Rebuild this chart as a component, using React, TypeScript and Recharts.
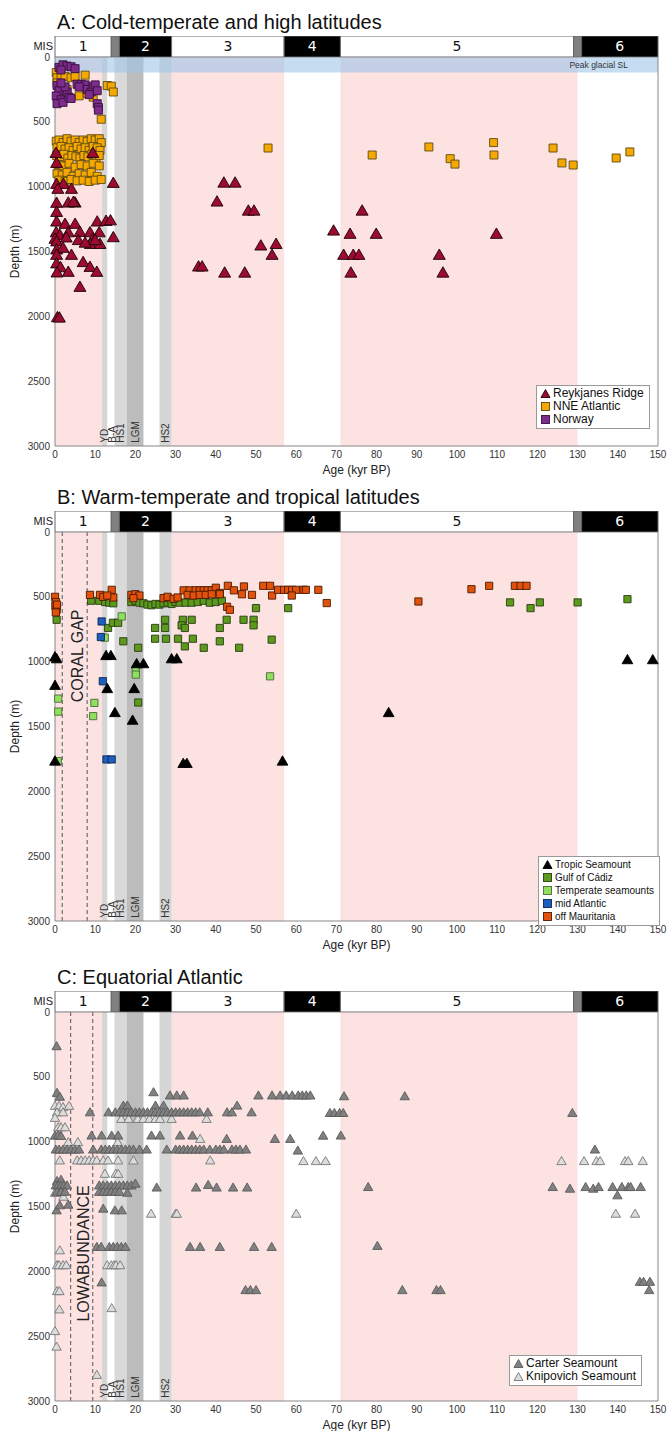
import React from 'react';
import {
  ScatterChart, Scatter, XAxis, YAxis, ReferenceArea, ReferenceLine, Symbols,
  BarChart, Bar, LabelList
} from 'recharts';

const W = 667;
const FONT = '"Liberation Sans", Arial, sans-serif';

// MIS stages along the top strip (kyr BP)
const misLabels = ['1', '', '2', '3', '4', '5', '', '6'];
const misStarts = [0, 14, 16, 29, 57, 71, 129, 131];
const misEnds = [14, 16, 29, 57, 71, 129, 131, 150];
const misFills = ['#fff', '#808080', '#000', '#fff', '#000', '#fff', '#808080', '#000'];

// shaded periods
const warmBands = [[0, 11.7], [29, 57], [71, 130]];
const coldNames = ['YD', 'HS1', 'LGM', 'HS2'];
const coldBands = [[11.7, 13], [14.8, 17.8], [17.8, 22], [26, 29]];
const coldFills = ['#d6d6d6', '#d9d9d9', '#bcbcbc', '#d6d6d6'];
const bandLabelNames = ['YD', 'B-A', 'HS1', 'LGM', 'HS2'];
const bandLabelAges = [12.4, 14.3, 16.3, 20.0, 27.6];

const ageTicks = [0, 10, 20, 30, 40, 50, 60, 70, 80, 90, 100, 110, 120, 130, 140, 150];
const ageMinor = Array.from({ length: 76 }, (_, i) => i * 2);
const depthTicks = [0, 500, 1000, 1500, 2000, 2500, 3000];

// ---------- Panel A ----------
const reykjanesRidge = [
  [0.25, 748], [9.4, 748], [0.4, 825], [0.4, 987], [2.1, 987], [0.7, 1025], [4.1, 1025], [14.5, 979],
  [0.4, 1133], [3.3, 1131], [5, 1131], [4.6, 1125], [0.4, 1203], [0.4, 1277], [2.5, 1295], [5, 1295], [10.5, 1277],
  [12.7, 1272], [13.8, 1268], [0.3, 1360], [1.2, 1380], [3.3, 1360], [0, 1410], [0.4, 1430], [6.2, 1357],
  [8.7, 1360], [9.4, 1410], [11, 1360], [8.8, 1450], [14.5, 1398], [11.2, 1450], [0.4, 1493], [2, 1480],
  [4.1, 1534], [0.4, 1534], [0.4, 1600], [1.4, 1630], [3.3, 1665], [0.5, 1670], [7, 1590], [8.7, 1627],
  [10.4, 1665], [6.2, 1781], [0.6, 2015], [1.1, 2018], [2.8, 1400], [5.8, 1420], [7.5, 1440], [10, 1420],
  [42, 977], [44.8, 977], [40.3, 1123], [48.1, 1193], [49.5, 1193], [51.2, 1462], [55, 1450], [54, 1534],
  [35.7, 1624], [36.6, 1624], [42.2, 1671], [47.2, 1671], [69.3, 1347], [73.4, 1372], [79.9, 1372],
  [76.4, 1193], [71.8, 1534], [74.2, 1534], [75.6, 1534], [73.6, 1671], [95.6, 1534], [96.5, 1671], [109.8, 1372]
];
const nneAtlantic = [
  [0.3, 120], [0.5, 160], [1.5, 140], [2.5, 150], [4, 160], [5, 150], [7.5, 140], [13, 220], [14, 225],
  [14.5, 270], [1, 270], [3, 250], [6, 300], [8, 280], [9.5, 310], [11.5, 480], [0.5, 200],
  [0.3, 650], [1, 640], [2, 660], [3, 630], [4, 650], [5, 640], [6, 660], [7, 640], [8, 650], [9, 630], [10, 640], [11, 630], [11.5, 660],
  [0.5, 700], [1.5, 690], [2.5, 710], [3.5, 700], [4.5, 720], [5.5, 690], [6.5, 710], [7.5, 700], [8.5, 720], [9.5, 690], [10.5, 700], [11.2, 720],
  [0.4, 760], [1.2, 770], [2.2, 750], [3.2, 780], [4.2, 760], [5.2, 770], [6.2, 780], [7.2, 760], [8.2, 770], [9.2, 750], [10.2, 780], [11, 760],
  [0.8, 830], [2, 840], [3.5, 820], [5, 850], [6.5, 830], [8, 840], [9.5, 820], [11, 840],
  [0.5, 900], [1.8, 910], [3, 890], [4.5, 920], [6, 900], [7.5, 910], [9, 890], [10.5, 920],
  [1, 950], [2.5, 960], [4, 945], [5.5, 955], [7, 950], [8.5, 960], [10, 950], [11.5, 945],
  [53, 702], [78.9, 756], [93, 694], [98.3, 784], [99.5, 826], [109.1, 660], [109.2, 756],
  [123.9, 702], [126.1, 817], [128.9, 833], [139.6, 779], [143, 732]
];
const norway = [
  [1, 80], [2, 60], [3, 70], [4, 75], [5, 90], [1.5, 100], [0.5, 220], [1, 260], [0.3, 300], [1.5, 330],
  [0.5, 360], [2, 350], [3, 270], [3.5, 310], [4, 320], [5.5, 210], [6.5, 210], [7.5, 215], [8, 250],
  [9, 270], [9.5, 230], [10, 215], [10.5, 260], [8.5, 290], [10.5, 360], [10.8, 390], [10.8, 410],
  [6, 230], [2.5, 230], [1.5, 200]
];

// ---------- Panel B ----------
const tropicSeamount = [
  [0, 970], [0.4, 985], [0, 1190], [12.7, 960], [13.9, 960], [20.3, 1023], [22, 1023], [13, 1215],
  [19.7, 1215], [29, 985], [30.3, 985], [14.9, 1400], [19.3, 1459], [0, 1774], [31.9, 1792], [32.8, 1792],
  [56.6, 1774], [83, 1400], [142.4, 992], [148.7, 992]
];
const gulfOfCadiz = [
  [0.4, 575], [0.4, 677], [9, 530], [11, 530], [12.5, 540], [13.5, 545], [14.5, 550], [13.2, 740],
  [14.4, 700], [15.7, 700], [17, 843], [20.7, 893], [20.7, 1315], [19, 540], [20, 530], [21, 545],
  [22, 550], [23, 560], [24, 565], [25, 555], [26, 560], [27, 550], [28, 545], [29, 555], [30, 540],
  [31, 545], [32.5, 545], [34, 545], [35.5, 540], [37, 530], [38.5, 545], [40, 540], [41.5, 530],
  [24.9, 740], [27.4, 740], [27.4, 677], [24.9, 823], [27.6, 823], [30.6, 823], [34.3, 823], [32.3, 882],
  [31.8, 677], [34, 677], [31.5, 720], [32.3, 740], [37, 893], [41, 843], [41, 740], [42.7, 677],
  [45.8, 893], [46.9, 677], [49.4, 677], [49.4, 720], [50, 587], [53.9, 830], [58, 587],
  [113.2, 543], [118.3, 587], [120.6, 543], [130, 543], [142.4, 518]
];
const temperateSeamounts = [
  [16.6, 651], [0.8, 1285], [0.8, 1385], [9.8, 1318], [9.5, 1420], [0.7, 1767], [12.4, 815],
  [20.1, 1062], [20.1, 1100], [53.5, 1113]
];
const midAtlantic = [[11.6, 690], [11.4, 810], [11.9, 1151], [12.8, 1754], [14.1, 1754]];
const offMauritania = [
  [0, 500], [0.2, 540], [0.1, 570], [0.4, 600], [0.2, 620], [0.5, 560], [8.7, 485], [11.2, 485],
  [12, 500], [14.1, 446], [14.5, 505], [13, 490], [19, 485], [20, 480], [21, 490], [19.5, 510],
  [27, 510], [28, 500], [29.5, 515], [30.5, 505], [32, 450], [33.5, 450], [35, 450], [36, 450],
  [37, 450], [38, 450], [39, 450], [40, 430], [41, 470], [33, 485], [34.5, 490], [36, 485], [37.5, 485],
  [39, 480], [41, 480], [42.8, 577], [43.5, 600], [43, 415], [44.5, 450], [47, 420], [46.5, 480],
  [49, 485], [51.8, 415], [53.5, 415], [54, 490], [55.5, 446], [57, 446], [58, 446], [59, 446],
  [60, 446], [61.8, 446], [62.4, 446], [58.9, 490], [65.5, 446], [67.6, 548], [90.4, 536],
  [103.6, 441], [108, 415], [114.4, 415], [115.8, 415], [117.3, 415]
];

// ---------- Panel C ----------
const carterSeamount = [
  [0.4, 270], [0.5, 630], [1.2, 660], [24.5, 625], [28.6, 650], [30.3, 650], [32, 650], [50.6, 650],
  [54, 650], [56, 650], [57.5, 650], [59, 650], [60.5, 650], [61.5, 650], [62.5, 650], [63.5, 650],
  [71.9, 656], [87, 656], [17, 728], [18, 728], [25, 728], [27, 728], [45.3, 728],
  [8.7, 780], [13.3, 780], [15, 780], [16, 780], [17, 780], [18, 780], [19, 780], [20, 780], [21, 780],
  [22, 780], [23, 780], [24, 780], [25, 780], [26, 780], [27, 780], [28, 780], [29, 780], [30, 780],
  [31, 780], [32, 780], [33, 780], [34, 780], [35, 780], [36, 780], [38, 780], [42.8, 780], [44, 780],
  [48.9, 780], [68.4, 785], [69.5, 785], [70.8, 785], [71.7, 785], [128.7, 785],
  [0, 960], [0.8, 955], [1.5, 962], [9.1, 959], [11.6, 959], [14.1, 959], [15.7, 959], [24, 959],
  [26.1, 959], [31.1, 959], [34.2, 959], [42.7, 985], [54.7, 985], [58.5, 985], [71.1, 959], [66.7, 960],
  [0.2, 1067], [1, 1067], [2, 1067], [3, 1067], [4, 1067], [5, 1067], [6, 1067], [9.5, 1067], [11.5, 1067],
  [12.5, 1067], [13.5, 1067], [14.5, 1067], [15.5, 1067], [16.5, 1067], [17.5, 1067], [18.5, 1067],
  [19.5, 1067], [21, 1067], [22.8, 1067], [27.8, 1067], [30, 1067], [31, 1067], [32, 1067], [33, 1067],
  [34, 1067], [35, 1067], [36, 1067], [37, 1067], [38.5, 1067], [40, 1067], [41, 1067], [42, 1067],
  [44, 1067], [45, 1067], [46, 1067], [47.5, 1067], [60.4, 1075], [134.3, 1067],
  [0.5, 1310], [1.5, 1300], [0.2, 1344], [0.8, 1344], [1.5, 1344], [2.2, 1344], [3, 1344], [11, 1344],
  [12, 1344], [13, 1344], [14, 1344], [15, 1344], [16, 1344], [17, 1344], [18, 1344], [19, 1344],
  [20, 1330], [25.3, 1360], [35.1, 1360], [38.1, 1340], [40.2, 1360], [44.3, 1360], [47.8, 1360],
  [77.9, 1356], [123.8, 1356], [128.1, 1369], [132, 1356], [133.9, 1369], [135.2, 1356], [138.7, 1356],
  [141, 1356], [142.6, 1356], [143.2, 1356], [145.7, 1356], [139.9, 1420],
  [0.5, 1393], [1.5, 1393], [2.5, 1393], [11, 1393], [12, 1393], [13, 1393], [14, 1393], [15, 1393],
  [16, 1393], [18, 1400], [0.4, 1536], [1.2, 1497], [3.3, 1492], [12, 1523], [14.9, 1536], [16.6, 1536],
  [10.4, 1818], [11.5, 1818], [13.5, 1818], [14.5, 1818], [15.5, 1818], [16.5, 1818], [17.5, 1818],
  [33.6, 1818], [36.1, 1818], [41, 1818], [49.5, 1818], [53.9, 1818], [80.2, 1810],
  [11.6, 2092], [47.4, 2151], [48.6, 2151], [50, 2151], [86.4, 2151], [94.9, 2151], [95.9, 2151],
  [145.5, 2087], [146.4, 2087], [148, 2087], [147.8, 2151]
];
const knipovichSeamount = [
  [0, 730], [1, 730], [2, 740], [3.5, 730], [0.5, 780], [2, 780], [0, 823], [0.8, 895], [1.5, 895],
  [2.5, 895], [16.5, 831], [18.3, 831], [20.6, 831], [22, 831], [23.5, 831], [25, 831], [26.1, 831],
  [29, 831], [37.7, 831], [36.1, 985], [3.3, 1010], [5.7, 1010], [15.6, 1010],
  [1.2, 1151], [5.5, 1151], [6.5, 1151], [7.5, 1151], [8.5, 1151], [9.5, 1151], [10.4, 1151], [12, 1151],
  [13.2, 1151], [15.7, 1151], [19.5, 1151], [38.6, 1151], [61.8, 1156], [64.9, 1156], [67.3, 1156],
  [126, 1156], [131.6, 1156], [134.7, 1156], [135.6, 1156], [141.8, 1156], [142.6, 1156], [146.2, 1156],
  [12.4, 1254], [15.1, 1254], [15.7, 1254], [0, 1400], [0.3, 1400], [2.1, 1431],
  [23.9, 1562], [30, 1562], [30.3, 1562], [60, 1562], [139.5, 1562], [144.3, 1562],
  [1.2, 1844], [0.5, 1959], [1, 1959], [2, 1959], [2.8, 1959], [13, 1959], [14, 1959], [14.7, 1959],
  [15.2, 1959], [16.2, 1959], [0.5, 2159], [1.1, 2159], [1.1, 2300], [14.1, 2290], [0, 2467],
  [0.4, 2587], [10.4, 2805]
];

const toPts = (arr: number[][]) => arr.map(([age, depth]) => ({ age, depth }));

type Series = { name: string; data: number[][]; shape: 'triangle' | 'square'; fill: string; stroke: string; size: number };

const panelA: Series[] = [
  { name: 'NNE Atlantic', data: nneAtlantic, shape: 'square', fill: '#f5a800', stroke: '#5c4a14', size: 64 },
  { name: 'Norway', data: norway, shape: 'square', fill: '#7d2c8c', stroke: '#35103c', size: 64 },
  { name: 'Reykjanes Ridge', data: reykjanesRidge, shape: 'triangle', fill: '#9c0b30', stroke: '#1a0006', size: 62 },
];
const legendA = [panelA[2], panelA[0], panelA[1]];

const panelB: Series[] = [
  { name: 'Gulf of Cádiz', data: gulfOfCadiz, shape: 'square', fill: '#5c9a1c', stroke: '#2b3a16', size: 52 },
  { name: 'off Mauritania', data: offMauritania, shape: 'square', fill: '#e2520c', stroke: '#4a1a00', size: 52 },
  { name: 'Temperate seamounts', data: temperateSeamounts, shape: 'square', fill: '#8fe05c', stroke: '#4a6a3a', size: 52 },
  { name: 'mid Atlantic', data: midAtlantic, shape: 'square', fill: '#1e5fbe', stroke: '#0a2550', size: 52 },
  { name: 'Tropic Seamount', data: tropicSeamount, shape: 'triangle', fill: '#000', stroke: '#000', size: 50 },
];
const legendB = [panelB[4], panelB[0], panelB[2], panelB[3], panelB[1]];

const panelC: Series[] = [
  { name: 'Knipovich Seamount', data: knipovichSeamount, shape: 'triangle', fill: '#dcdcdc', stroke: '#777', size: 38 },
  { name: 'Carter Seamount', data: carterSeamount, shape: 'triangle', fill: '#808080', stroke: '#5a5a5a', size: 38 },
];
const legendC = [panelC[1], panelC[0]];

const markShape = (s: Series) => (p: any) => (
  <Symbols type={s.shape} size={s.size} cx={p.cx} cy={p.cy} fill={s.fill} stroke={s.stroke} strokeWidth={0.9} />
);

const bandLabelShape = (p: any) => (
  <text x={p.cx} y={p.cy} transform={`rotate(-90 ${p.cx} ${p.cy})`} textAnchor="start"
    dominantBaseline="central" fontSize={10} fill="#333" fontFamily={FONT}>{p.payload.text}</text>
);
const bigLabelShape = (p: any) => (
  <text x={p.cx} y={p.cy} transform={`rotate(-90 ${p.cx} ${p.cy})`} textAnchor="middle"
    dominantBaseline="central" fontSize={16} fill="#222" fontFamily={FONT}>{p.payload.text}</text>
);

function LegendBox({ items, left, top, fontSize }: { items: Series[]; left: number; top: number; fontSize: number }) {
  return (
    <div style={{
      position: 'absolute', left, top, border: '1px solid #999', background: '#fff',
      padding: '1px 5px 2px 3px', font: `${fontSize}px ${FONT}`, lineHeight: '13px', color: '#111', whiteSpace: 'nowrap'
    }}>
      {items.map(it => (
        <div key={it.name} style={{ display: 'flex', alignItems: 'center' }}>
          <svg width={11} height={11} style={{ marginRight: 2 }}>
            {it.shape === 'triangle'
              ? <polygon points="5.5,1.5 10,9.5 1,9.5" fill={it.fill} stroke={it.stroke} strokeWidth={0.9} />
              : <rect x={1.5} y={1.5} width={8} height={8} fill={it.fill} stroke={it.stroke} strokeWidth={0.9} />}
          </svg>
          {it.name}
        </div>
      ))}
    </div>
  );
}

function MisStrip() {
  const row: any = { name: 'MIS' };
  misLabels.forEach((_, i) => { row['s' + i] = misEnds[i] - misStarts[i]; });
  return (
    <BarChart layout="vertical" width={W} height={21} data={[row]} barCategoryGap={0}
      margin={{ top: 0, right: 9, bottom: 0, left: 0 }}>
      <XAxis type="number" domain={[0, 150]} hide />
      <YAxis type="category" dataKey="name" width={55} tickLine={false} axisLine={false} tickSize={0}
        tickMargin={2} tick={{ fontSize: 11, fill: '#222', fontFamily: FONT }} />
      {misLabels.map((lab, i) => (
        <Bar key={i} dataKey={'s' + i} stackId="mis" fill={misFills[i]} stroke="#666" strokeWidth={1}
          isAnimationActive={false}>
          <LabelList dataKey={'s' + i} position="center" formatter={() => lab}
            fill={misFills[i] === '#000' ? '#fff' : '#111'}
            style={{ fontSize: 14, fontFamily: '"DejaVu Sans", Verdana, sans-serif' }} />
        </Bar>
      ))}
    </BarChart>
  );
}

function Panel({ top, title, series, legend, legendPos, legendFont, kind }: any) {
  const bandLabels = bandLabelNames.map((text, i) => ({ age: bandLabelAges[i], depth: 2975, text }));
  const gap = kind === 'B' ? { lines: [1.8, 8], label: { age: 5.5, depth: 955, text: 'CORAL GAP' } }
    : kind === 'C' ? { lines: [3.9, 9.4], label: { age: 7, depth: 1862, text: 'LOWABUNDANCE' } } : null;
  return (
    <div style={{ position: 'absolute', left: 0, top, width: W, height: 477 }}>
      <div style={{ position: 'absolute', left: 57, top: 12, font: `20px ${FONT}`, lineHeight: '20px', color: '#111', whiteSpace: 'nowrap' }}>
        {title}
      </div>
      <div style={{ position: 'absolute', left: 0, top: 47 }}>
        <ScatterChart width={W} height={430} margin={{ top: 10, right: 9, bottom: 1, left: 0 }}>
          <XAxis type="number" dataKey="age" domain={[0, 150]} ticks={ageTicks} interval={0} tickLine={false}
            tickSize={3} tickMargin={2} height={30} axisLine={{ stroke: '#888' }}
            tick={{ fontSize: 10, fill: '#333', fontFamily: FONT }}
            label={{ value: 'Age (kyr BP)', position: 'insideBottom', offset: 2, fontSize: 12, fill: '#222', fontFamily: FONT }} />
          <YAxis type="number" dataKey="depth" domain={[0, 3000]} reversed ticks={depthTicks} interval={0}
            tickLine={false} tickSize={3} tickMargin={2} width={55} axisLine={{ stroke: '#888' }}
            tick={{ fontSize: 10, fill: '#333', fontFamily: FONT }}
            label={{ value: 'Depth (m)', angle: -90, position: 'insideLeft', offset: 15, fontSize: 12, fill: '#222', fontFamily: FONT, style: { textAnchor: 'middle' } }} />
          <XAxis xAxisId="bMinor" type="number" domain={[0, 150]} allowDataOverflow ticks={ageMinor} interval={0}
            orientation="bottom" mirror tick={false} axisLine={false} tickSize={3} tickLine={{ stroke: '#666' }} />
          <XAxis xAxisId="bMajor" type="number" domain={[0, 150]} allowDataOverflow ticks={ageTicks} interval={0}
            orientation="bottom" mirror tick={false} axisLine={false} tickSize={6} tickLine={{ stroke: '#666' }} />
          <XAxis xAxisId="tMinor" type="number" domain={[0, 150]} allowDataOverflow ticks={ageMinor} interval={0}
            orientation="top" mirror tick={false} axisLine={false} tickSize={3} tickLine={{ stroke: '#666' }} />
          <XAxis xAxisId="tMajor" type="number" domain={[0, 150]} allowDataOverflow ticks={ageTicks} interval={0}
            orientation="top" mirror tick={false} axisLine={false} tickSize={6} tickLine={{ stroke: '#666' }} />
          <YAxis yAxisId="lTicks" type="number" domain={[0, 3000]} allowDataOverflow reversed ticks={depthTicks}
            interval={0} mirror tick={false} axisLine={false} tickSize={5} tickLine={{ stroke: '#666' }} />
          <YAxis yAxisId="rTicks" type="number" domain={[0, 3000]} allowDataOverflow reversed ticks={depthTicks}
            interval={0} orientation="right" mirror tick={false} axisLine={false} tickSize={5} tickLine={{ stroke: '#666' }} />

          {warmBands.map(([a, b], i) => (
            <ReferenceArea key={'w' + i} x1={a} x2={b} fill="#fde2e2" fillOpacity={1} stroke="none" />
          ))}
          {coldBands.map(([a, b], i) => (
            <ReferenceArea key={'c' + coldNames[i]} x1={a} x2={b} fill={coldFills[i]} fillOpacity={1} stroke="none" />
          ))}
          {kind === 'A' && (
            <ReferenceArea x1={0} x2={150} y1={0} y2={120} fill="#9ec5e8" fillOpacity={0.6} stroke="none"
              label={{ value: 'Peak glacial SL', position: 'insideRight', offset: 30, fontSize: 8.5, fill: '#333', fontFamily: FONT }} />
          )}
          {gap && gap.lines.map(x => (
            <ReferenceLine key={'g' + x} x={x} stroke="#555" strokeDasharray="4 3" strokeWidth={1} />
          ))}
          <ReferenceLine x={150} stroke="#888" />
          <ReferenceLine y={0} stroke="#888" />

          <Scatter data={bandLabels} shape={bandLabelShape} isAnimationActive={false} />
          {gap && <Scatter data={[gap.label]} shape={bigLabelShape} isAnimationActive={false} />}

          {series.map((s: Series) => (
            <Scatter key={s.name} name={s.name} data={toPts(s.data)} shape={markShape(s)} isAnimationActive={false} />
          ))}
        </ScatterChart>
      </div>
      <div style={{ position: 'absolute', left: 0, top: 36 }}>
        <MisStrip />
      </div>
      <LegendBox items={legend} left={legendPos[0]} top={legendPos[1]} fontSize={legendFont} />
    </div>
  );
}

export default function App() {
  return (
    <div style={{ position: 'relative', width: W, height: 1431, background: '#fff' }}>
      <style>{'body{margin:0}'}</style>
      <Panel top={0} kind="A" title="A: Cold-temperate and high latitudes" series={panelA} legend={legendA} legendPos={[536, 385]} legendFont={12} />
      <Panel top={475} kind="B" title="B: Warm-temperate and tropical latitudes" series={panelB} legend={legendB} legendPos={[538, 381]} legendFont={10} />
      <Panel top={955} kind="C" title="C: Equatorial Atlantic" series={panelC} legend={legendC} legendPos={[509, 400]} legendFont={12} />
    </div>
  );
}
